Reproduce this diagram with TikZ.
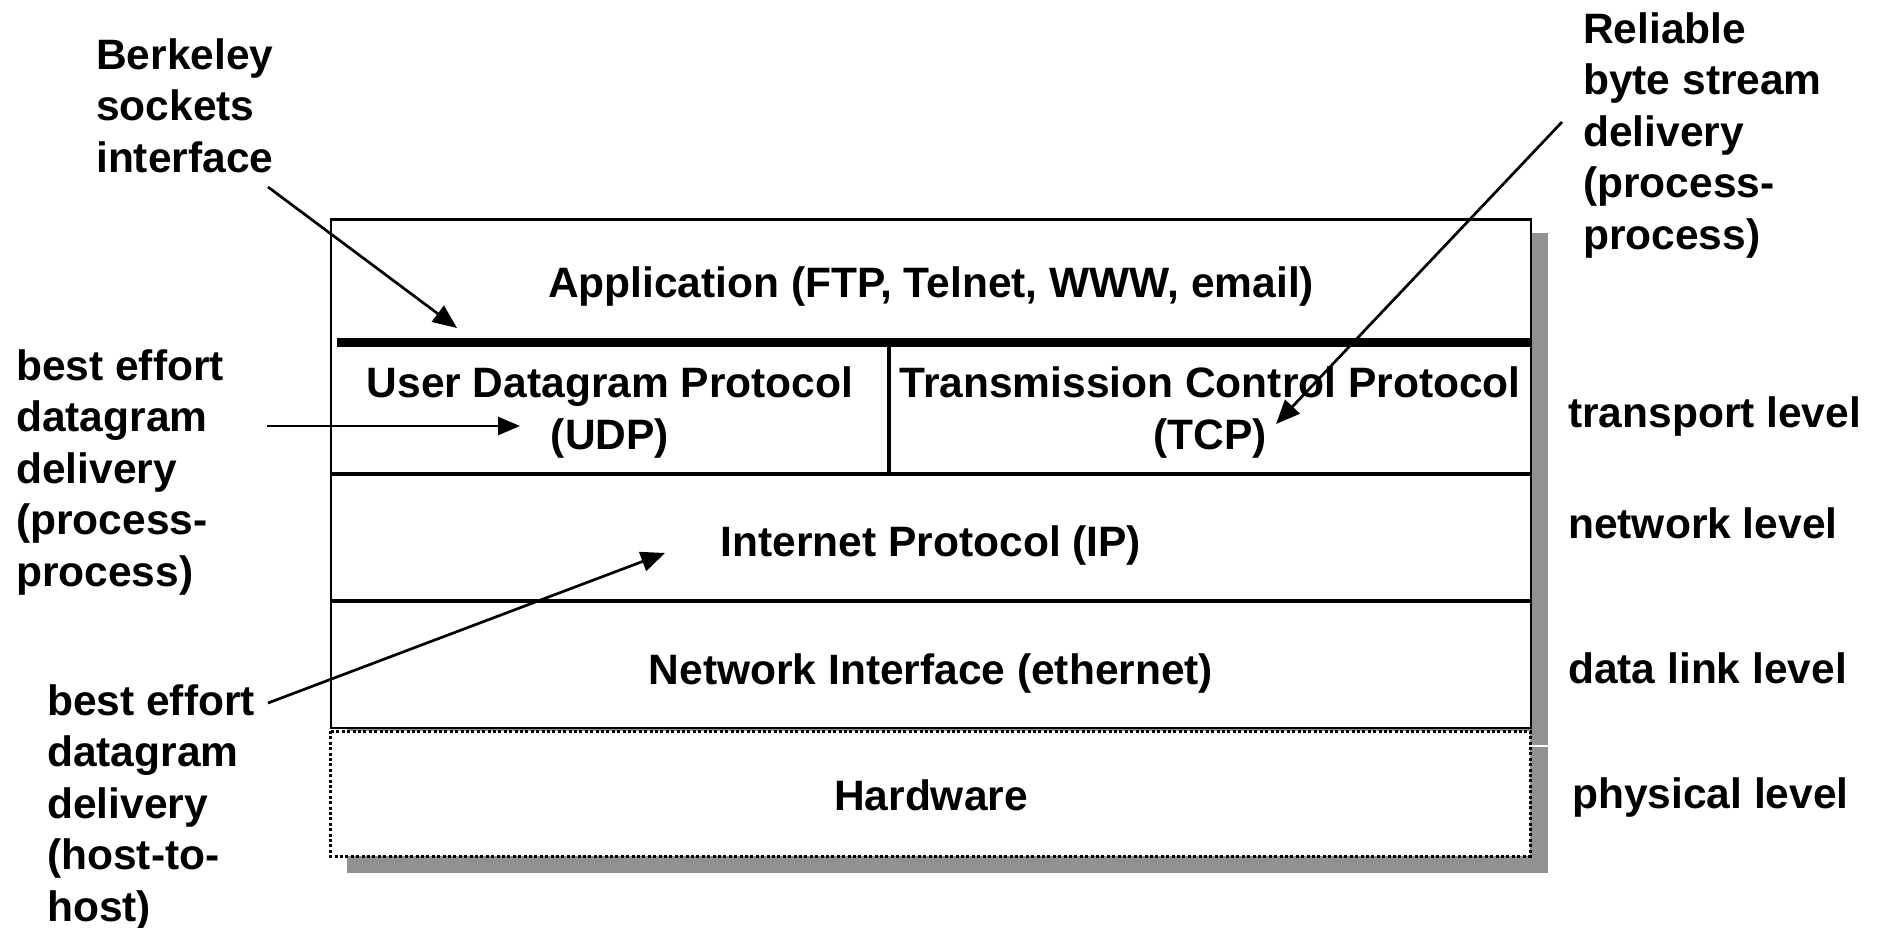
\documentclass[tikz,border=0pt]{standalone}
\usepackage{fontspec}
\setmainfont{Liberation Sans}
\usetikzlibrary{arrows.meta}
\begin{document}
\begin{tikzpicture}[x=1pt,y=-1pt,
  lbl/.style={font=\fontsize{42.5}{51.5}\selectfont\bfseries, inner sep=0pt, align=left, anchor=base west},
  ctr/.style={font=\fontsize{42.5}{51.5}\selectfont\bfseries, inner sep=0pt, align=center, anchor=base},
  frame/.style={line width=2.7pt},
  sep/.style={line width=4.8pt},
  arr/.style={line width=2.7pt, -{Triangle[length=24pt,width=20pt]}},
  shadowfill/.style={fill=black!43},
  dotbox/.style={line width=3pt, dash pattern=on 3pt off 2.4pt, fill=white},
]
\useasboundingbox (0,0) rectangle (1881,927);
% shadows
\fill[shadowfill] (347,233) rectangle (1548,745);
\fill[shadowfill] (347,747) rectangle (1548,873);
% hardware box (dotted)
\draw[dotbox] (330,731) rectangle (1530,856);
% main frame
\draw[frame, fill=white] (331,219.5) rectangle (1531,728);
\draw[line width=8.4pt] (337,342.5) -- (1531,342.5);
\draw[sep] (331,474) -- (1531,474);
\draw[sep] (331,601) -- (1531,601);
\draw[line width=4pt] (889,342.5) -- (889,474);
% layer texts (base = baseline of last line)
\node[ctr] (app) at (931,297) {Application (FTP, Telnet, WWW, email)};
\node[ctr] (udp) at (610,449) {User Datagram Protocol\\(UDP)};
\node[ctr] (tcp) at (1210,449) {Transmission Control Protocol\\(TCP)};
\node[ctr] (ip) at (931,556) {Internet Protocol (IP)};
\node[ctr] (eth) at (931,684) {Network Interface (ethernet)};
\node[ctr] (hw) at (931,810) {Hardware};
% level labels
\node[lbl] (lt) at (1568,427) {transport level};
\node[lbl] (ln) at (1568,538) {network level};
\node[lbl] (ld) at (1568,683) {data link level};
\node[lbl] (lp) at (1572,808) {physical level};
% annotations
\node[lbl] (bsi) at (96,172) {Berkeley\\sockets\\interface};
\node[lbl] (rel) at (1583,249) {Reliable\\byte stream\\delivery\\(process-\\process)};
\node[lbl] (bepp) at (16,586) {best effort\\datagram\\delivery\\(process-\\process)};
\node[lbl] (behh) at (47,921) {best effort\\datagram\\delivery\\(host-to-\\host)};
% arrows
\coordinate (bsiS) at (268,187);
\coordinate (bsiT) at (457,328);
\coordinate (relS) at (1562,122);
\coordinate (relT) at (1276,424);
\coordinate (ppS) at (267,426);
\coordinate (ppT) at (520,426);
\coordinate (hhS) at (268,703);
\coordinate (hhT) at (665,553);
\draw[arr] (bsiS) -- (bsiT);
\draw[arr] (relS) -- (relT);
\draw[arr, -{Triangle[length=22pt,width=18pt]}] (ppS) -- (ppT);
\draw[arr] (hhS) -- (hhT);
\end{tikzpicture}
\end{document}
